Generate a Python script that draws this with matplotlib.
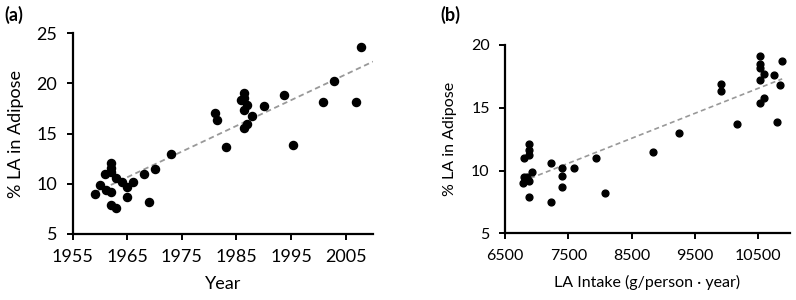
import numpy as np
import matplotlib.pyplot as plt

plt.rcParams['font.family'] = ['Lato', 'DejaVu Sans']

# panel (a): year vs % LA in adipose
years = [1959, 1960, 1961, 1961.1, 1962, 1962, 1962, 1962, 1962, 1963, 1963, 1964,
         1965, 1965, 1966, 1968, 1969, 1970, 1973, 1981, 1981.4, 1983, 1985.8,
         1986.3, 1986.3, 1986.3, 1986.9, 1986.9, 1986.4, 1987.8, 1990, 1993.7,
         1995.4, 2000.8, 2002.8, 2006.8, 2007.8]
adipose_a = [9.0, 9.9, 11.0, 9.4, 12.1, 11.6, 11.2, 9.2, 7.9, 7.6, 10.6, 10.2,
             9.7, 8.7, 10.2, 11.0, 8.2, 11.5, 13.0, 17.0, 16.3, 13.7, 18.3,
             19.0, 18.5, 17.3, 17.8, 15.9, 15.5, 16.7, 17.7, 18.8,
             13.9, 18.1, 20.2, 18.1, 23.6]

# panel (b): LA intake vs % LA in adipose
intake = [6778, 6804, 6804, 6877, 6877, 6877, 6877, 6877, 6919, 6840,
          7223, 7223, 7401, 7401, 7401, 7585, 7941, 8072, 8843, 9241,
          9907, 9907, 10169, 10525, 10525, 10525, 10525, 10525, 10588, 10588,
          10745, 10787, 10849, 10876]
adipose_b = [9.0, 9.5, 11.0, 12.1, 11.6, 11.2, 9.2, 7.9, 9.9, 9.5,
             10.6, 7.5, 10.2, 9.6, 8.7, 10.2, 11.0, 8.2, 11.5, 13.0,
             16.9, 16.3, 13.7, 19.1, 18.5, 18.2, 17.2, 15.35, 17.7, 15.8,
             17.6, 13.9, 16.8, 18.7]

fig = plt.figure(figsize=(7.96, 3.0), dpi=100)
ax1 = fig.add_axes([0.0913, 0.22, 0.3773, 0.67])
ax2 = fig.add_axes([0.6344, 0.2222, 0.3581, 0.6278])


def style_axes(ax, fs):
    for side in ['top', 'right']:
        ax.spines[side].set_visible(False)
    for side in ['left', 'bottom']:
        ax.spines[side].set_linewidth(1.6)
    ax.tick_params(axis='both', direction='out', length=4, width=1.4,
                   labelsize=fs, pad=7)


# (a)
x = np.array(years)
y = np.array(adipose_a)
ax1.scatter(x, y, s=34, color='black', zorder=3)
k, b = np.polyfit(x, y, 1)
xl = np.array([x.min(), 2010])
ax1.plot(xl, k * xl + b, ls=(0, (3, 2)), color='#999999', lw=1.3, zorder=2)
ax1.set_xlim(1955, 2010)
ax1.set_ylim(5, 25)
ax1.set_xticks(range(1955, 2010, 10))
ax1.set_yticks(range(5, 26, 5))
style_axes(ax1, 13)
ax1.set_xlabel('Year', fontsize=13, labelpad=8)
ax1.set_ylabel('% LA in Adipose', fontsize=13, labelpad=9)
fig.text(0.006, 0.95, '(a)', fontsize=13, fontweight='bold', va='center')

# (b)
x = np.array(intake)
y = np.array(adipose_b)
ax2.scatter(x, y, s=24, color='black', zorder=3)
k, b = np.polyfit(x, y, 1)
xl = np.array([x.min(), x.max()])
ax2.plot(xl, k * xl + b, ls=(0, (3, 2)), color='#999999', lw=1.2, zorder=2)
ax2.set_xlim(6500, 11000)
ax2.set_ylim(5, 20)
ax2.set_xticks(range(6500, 11000, 1000))
ax2.set_yticks(range(5, 21, 5))
style_axes(ax2, 11.5)
ax2.set_xlabel('LA Intake (g/person \u00b7 year)', fontsize=11.5, labelpad=9)
ax2.set_ylabel('% LA in Adipose', fontsize=11.5, labelpad=10)
fig.text(0.553, 0.95, '(b)', fontsize=13, fontweight='bold', va='center')

fig.savefig('out.png', dpi=100)
